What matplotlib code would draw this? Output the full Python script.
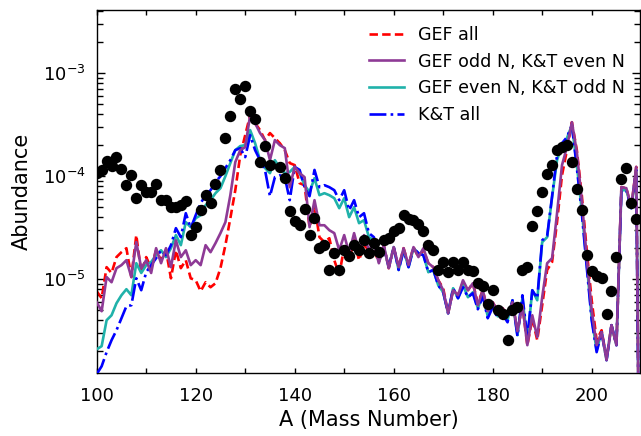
import numpy as np
import matplotlib
matplotlib.use("Agg")
import matplotlib.pyplot as plt
from matplotlib.ticker import MultipleLocator, LogLocator, NullFormatter

# ---------------- data ----------------
A_model = list(range(100, 211))

gef_all = [
    7.65e-6, 6.54e-6, 1.31e-5, 1.15e-5, 1.64e-5, 1.83e-5, 2.00e-5, 1.05e-5, 2.68e-5, 1.15e-5,  # 100-109
    1.64e-5, 1.28e-5, 1.91e-5, 1.53e-5, 1.91e-5, 1.02e-5, 1.91e-5, 1.28e-5, 1.53e-5, 1.02e-5,  # 110-119
    9.78e-6, 7.65e-6, 9.35e-6, 8.36e-6, 9.14e-6, 1.28e-5, 2.14e-5, 3.91e-5, 7.31e-5, 1.60e-4,  # 120-129
    2.50e-4, 3.91e-4, 3.27e-4, 2.80e-4, 2.24e-4, 2.62e-4, 2.34e-4, 2.09e-4, 1.79e-4, 1.34e-4,  # 130-139
    1.28e-4, 8.55e-5, 8.18e-5, 3.20e-5, 5.23e-5, 2.56e-5, 2.29e-5, 2.50e-5, 1.53e-5, 1.10e-5,  # 140-149
    2.05e-5, 1.53e-5, 2.39e-5, 1.53e-5, 2.14e-5, 1.91e-5, 1.91e-5, 1.47e-5, 2.14e-5, 1.28e-5,  # 150-159
    2.05e-5, 1.31e-5, 2.00e-5, 1.37e-5, 2.05e-5, 1.64e-5, 1.91e-5, 1.43e-5, 1.31e-5, 9.78e-6,  # 160-169
    8.18e-6, 4.67e-6, 7.82e-6, 6.99e-6, 9.35e-6, 7.82e-6, 9.14e-6, 5.85e-6, 7.82e-6, 4.89e-6,  # 170-179
    5.98e-6, 4.89e-6, 5.23e-6, 4.47e-6, 5.98e-6, 3.13e-6, 5.59e-6, 2.29e-6, 4.18e-6, 2.56e-6,  # 180-189
    5.59e-6, 1.23e-5, 1.47e-5, 3.58e-5, 1.02e-4, 1.79e-4, 3.34e-4, 1.79e-4, 6.54e-5, 1.91e-5,  # 190-199
    6.25e-6, 2.56e-6, 3.20e-6, 1.71e-6, 3.58e-6, 2.29e-6, 7.82e-5, 7.65e-5, 5.00e-5, 1.23e-4,  # 200-209
    1e-9]

gef_odd_kt_even = [
    5.98e-6, 4.89e-6, 1.05e-5, 9.35e-6, 1.28e-5, 1.37e-5, 1.53e-5, 1.05e-5, 2.29e-5, 1.28e-5,
    1.53e-5, 1.15e-5, 2.00e-5, 1.43e-5, 2.00e-5, 1.31e-5, 2.39e-5, 1.64e-5, 1.91e-5, 1.37e-5,
    1.53e-5, 1.37e-5, 2.14e-5, 1.83e-5, 2.24e-5, 2.80e-5, 3.58e-5, 6.54e-5, 1.37e-4, 1.79e-4,
    1.91e-4, 3.91e-4, 3.27e-4, 2.62e-4, 2.24e-4, 1.43e-4, 2.24e-4, 2.00e-4, 1.87e-4, 7.82e-5,
    1.23e-4, 1.07e-4, 9.78e-5, 3.20e-5, 5.85e-5, 3.34e-5, 3.34e-5, 2.99e-5, 2.80e-5, 1.91e-5,
    2.68e-5, 1.79e-5, 2.80e-5, 1.83e-5, 2.68e-5, 1.91e-5, 2.24e-5, 1.43e-5, 2.14e-5, 1.28e-5,
    2.05e-5, 1.31e-5, 2.00e-5, 1.37e-5, 2.05e-5, 1.64e-5, 2.00e-5, 1.43e-5, 1.31e-5, 9.78e-6,
    7.82e-6, 4.67e-6, 7.82e-6, 6.99e-6, 9.78e-6, 7.82e-6, 9.14e-6, 5.59e-6, 7.82e-6, 4.89e-6,
    5.98e-6, 4.89e-6, 5.23e-6, 4.47e-6, 5.98e-6, 3.13e-6, 5.59e-6, 2.29e-6, 4.47e-6, 2.74e-6,
    6.69e-6, 1.43e-5, 1.60e-5, 4.37e-5, 1.28e-4, 1.91e-4, 3.34e-4, 1.71e-4, 5.85e-5, 1.60e-5,
    5.00e-6, 2.29e-6, 3.06e-6, 1.64e-6, 3.58e-6, 2.29e-6, 7.82e-5, 7.65e-5, 5.00e-5, 1.23e-4,
    1e-9]

gef_even_kt_odd = [
    2.09e-6, 2.24e-6, 4.00e-6, 4.47e-6, 5.85e-6, 6.99e-6, 8.00e-6, 6.99e-6, 1.43e-5, 1.15e-5,
    1.37e-5, 1.47e-5, 1.71e-5, 1.91e-5, 1.64e-5, 2.00e-5, 2.68e-5, 2.14e-5, 3.58e-5, 3.20e-5,
    3.91e-5, 4.18e-5, 5.23e-5, 5.85e-5, 6.84e-5, 7.65e-5, 1.00e-4, 1.34e-4, 1.79e-4, 1.96e-4,
    2.00e-4, 2.80e-4, 2.09e-4, 1.43e-4, 1.20e-4, 1.07e-4, 1.43e-4, 1.20e-4, 1.07e-4, 1.10e-4,
    1.23e-4, 1.07e-4, 8.18e-5, 6.99e-5, 9.56e-5, 6.54e-5, 6.84e-5, 6.54e-5, 6.11e-5, 4.89e-5,
    6.11e-5, 4.00e-5, 5.00e-5, 3.50e-5, 3.74e-5, 2.56e-5, 2.39e-5, 1.47e-5, 2.05e-5, 1.31e-5,
    2.05e-5, 1.23e-5, 1.91e-5, 1.31e-5, 2.00e-5, 1.79e-5, 1.71e-5, 1.17e-5, 1.23e-5, 8.74e-6,
    7.48e-6, 4.67e-6, 8.18e-6, 6.54e-6, 8.74e-6, 6.69e-6, 7.48e-6, 5.23e-6, 6.99e-6, 4.37e-6,
    5.59e-6, 4.37e-6, 4.67e-6, 4.00e-6, 6.25e-6, 2.86e-6, 6.54e-6, 2.56e-6, 7.82e-6, 6.25e-6,
    2.29e-5, 2.56e-5, 6.25e-5, 1.43e-4, 2.00e-4, 2.34e-4, 3.13e-4, 1.28e-4, 4.67e-5, 1.43e-5,
    4.18e-6, 2.05e-6, 3.06e-6, 1.64e-6, 3.58e-6, 2.29e-6, 7.31e-5, 7.31e-5, 4.89e-5, 1.15e-4,
    1e-9]

kt_all = [
    1.20e-6, 1.43e-6, 1.96e-6, 2.56e-6, 3.20e-6, 4.18e-6, 5.47e-6, 5.59e-6, 1.02e-5, 7.82e-6,
    1.17e-5, 1.37e-5, 1.60e-5, 1.91e-5, 1.71e-5, 2.14e-5, 3.13e-5, 2.56e-5, 4.37e-5, 3.13e-5,
    4.18e-5, 5.47e-5, 6.54e-5, 7.31e-5, 8.74e-5, 1.00e-4, 1.20e-4, 1.43e-4, 1.79e-4, 1.87e-4,
    1.53e-4, 2.50e-4, 1.79e-4, 1.43e-4, 1.15e-4, 6.39e-5, 9.78e-5, 1.02e-4, 9.78e-5, 5.85e-5,
    1.23e-4, 1.15e-4, 7.82e-5, 6.39e-5, 1.15e-4, 7.82e-5, 8.18e-5, 7.82e-5, 7.31e-5, 5.85e-5,
    7.31e-5, 4.67e-5, 5.85e-5, 4.00e-5, 4.37e-5, 2.80e-5, 2.56e-5, 1.53e-5, 2.05e-5, 1.31e-5,
    2.05e-5, 1.23e-5, 1.91e-5, 1.31e-5, 2.00e-5, 1.79e-5, 1.71e-5, 1.17e-5, 1.23e-5, 8.74e-6,
    7.48e-6, 4.67e-6, 8.18e-6, 6.54e-6, 8.36e-6, 6.69e-6, 7.31e-6, 5.11e-6, 6.84e-6, 4.18e-6,
    5.35e-6, 4.18e-6, 4.57e-6, 3.82e-6, 6.25e-6, 2.80e-6, 6.99e-6, 2.68e-6, 7.82e-6, 6.54e-6,
    2.39e-5, 2.62e-5, 6.39e-5, 1.60e-4, 2.09e-4, 2.39e-4, 3.13e-4, 1.20e-4, 4.37e-5, 1.31e-5,
    4.00e-6, 1.96e-6, 3.06e-6, 1.64e-6, 3.58e-6, 2.29e-6, 7.31e-5, 7.31e-5, 4.89e-5, 1.15e-4,
    1e-9]

A_obs = list(range(100, 136)) + list(range(137, 210))
obs = [
    1.07e-4, 1.15e-4, 1.40e-4, 1.25e-4, 1.53e-4, 1.17e-4, 8.27e-5, 1.02e-4, 6.11e-5, 8.27e-5,  # 100-109
    6.95e-5, 6.95e-5, 8.32e-5, 5.89e-5, 5.89e-5, 5.03e-5, 5.03e-5, 5.31e-5, 5.72e-5, 2.66e-5,  # 110-119
    3.22e-5, 4.67e-5, 6.54e-5, 5.51e-5, 8.49e-5, 1.15e-4, 2.33e-4, 3.82e-4, 7.03e-4, 5.63e-4,  # 120-129
    7.56e-4, 4.32e-4, 3.58e-4, 1.37e-4, 1.96e-4, 1.29e-4,                                      # 130-135
    1.23e-4, 9.63e-5, 4.60e-5, 3.66e-5, 3.38e-5, 4.78e-5, 2.67e-5, 3.93e-5, 1.99e-5, 2.17e-5,  # 137-146
    1.23e-5, 1.78e-5, 1.23e-5, 1.91e-5, 1.67e-5, 2.14e-5, 1.94e-5, 2.39e-5, 1.80e-5, 2.25e-5,  # 147-156
    1.84e-5, 2.39e-5, 2.49e-5, 2.94e-5, 3.15e-5, 4.22e-5, 3.87e-5, 3.74e-5, 3.44e-5, 2.94e-5,  # 157-166
    2.15e-5, 1.91e-5, 1.23e-5, 1.48e-5, 1.18e-5, 1.48e-5, 1.23e-5, 1.48e-5, 1.24e-5, 1.21e-5,  # 167-176
    9.24e-6, 8.55e-6, 5.81e-6, 7.82e-6, 5.08e-6, 4.64e-6, 2.60e-6, 5.08e-6, 5.39e-6, 1.23e-5,  # 177-186
    1.30e-5, 3.27e-5, 4.60e-5, 7.07e-5, 1.04e-4, 1.28e-4, 1.79e-4, 1.90e-4, 2.00e-4, 1.36e-4,  # 187-196
    7.45e-5, 4.67e-5, 1.71e-5, 1.20e-5, 1.08e-5, 1.02e-5, 4.57e-6, 7.77e-6, 1.65e-5, 9.49e-5,  # 197-206
    1.21e-4, 5.47e-5, 3.84e-5]                                                                  # 207-209

labels = ["GEF all", "GEF odd N, K&T even N", "GEF even N, K&T odd N", "K&T all"]
x_ticks = [100, 120, 140, 160, 180, 200]

# ---------------- style ----------------
plt.rcParams.update({
    "font.family": "DejaVu Sans",
    "xtick.direction": "in",
    "ytick.direction": "in",
    "xtick.top": True,
    "ytick.right": True,
    "axes.linewidth": 1.0,
})

fig = plt.figure(figsize=(6.41, 4.36), dpi=100)
ax = fig.add_axes([96.7 / 641, (436 - 373) / 436, (640.2 - 96.7) / 641, (373 - 10) / 436])

lw = 1.9
h_red, = ax.plot(A_model, gef_all, color="#ff0000", ls="--", lw=lw, dashes=(3.2, 1.6), zorder=2)
h_teal, = ax.plot(A_model, gef_even_kt_odd, color="#20b2aa", ls="-", lw=lw, zorder=3)
h_blue, = ax.plot(A_model, kt_all, color="#0000ff", ls="-.", lw=lw, zorder=4)
h_purp, = ax.plot(A_model, gef_odd_kt_even, color="#8e3a96", ls="-", lw=lw, zorder=5)
ax.plot(A_obs, obs, "o", color="black", ms=7.2, zorder=6)

ax.set_yscale("log")
ax.set_xlim(100, 209.8)
ax.set_ylim(1.23e-6, 4.1e-3)

ax.set_xticks(x_ticks)
ax.xaxis.set_minor_locator(MultipleLocator(10))
ax.yaxis.set_minor_locator(LogLocator(base=10, subs=np.arange(2, 10)))
ax.yaxis.set_minor_formatter(NullFormatter())

ax.tick_params(which="major", length=5.5, width=1, labelsize=13, pad=8)
ax.tick_params(which="minor", length=4.2, width=1)
ax.tick_params(axis="x", which="both", length=3.8)
ax.tick_params(axis="x", which="major", pad=10)

ax.set_xlabel("A (Mass Number)", fontsize=15, labelpad=4)
ax.set_ylabel("Abundance", fontsize=15, labelpad=8)

ax.legend([h_red, h_purp, h_teal, h_blue], labels, loc="upper right",
          frameon=False, fontsize=12.6)

fig.savefig("out.png", dpi=100)
